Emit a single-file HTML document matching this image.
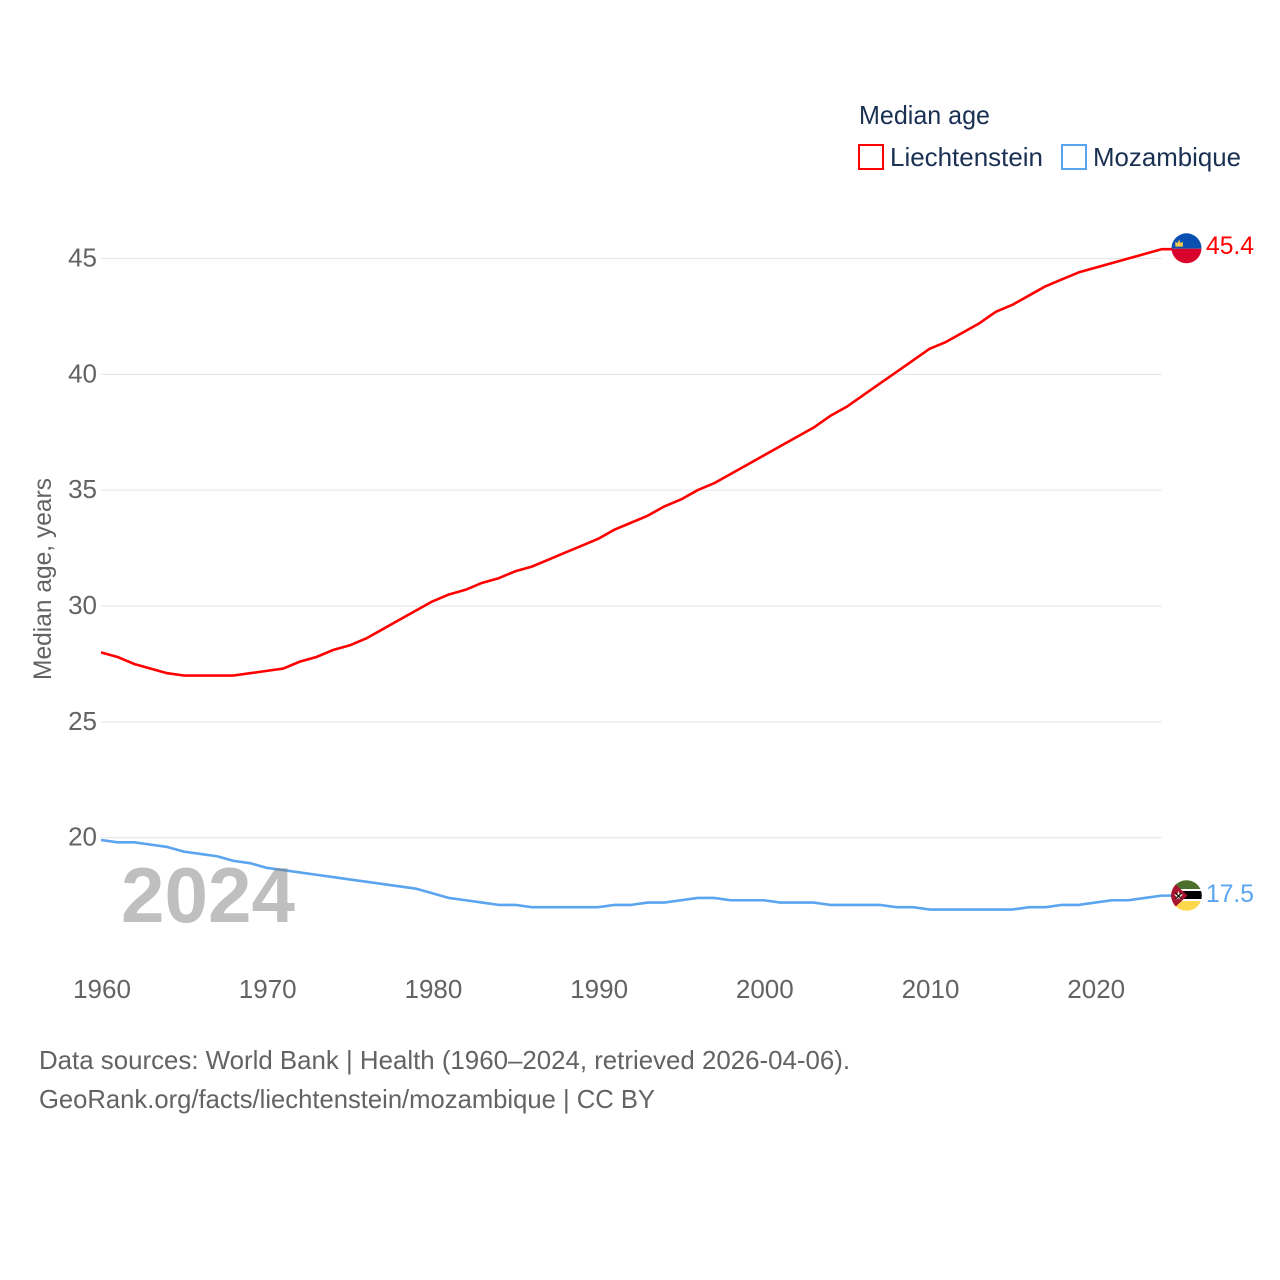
<!DOCTYPE html>
<html lang="en">
<head>
<meta charset="utf-8">
<title>Median age: Liechtenstein and Mozambique</title>
<style>
html,body{margin:0;padding:0;background:#fff;width:1280px;height:1280px;overflow:hidden}
svg{display:block;font-family:"Liberation Sans",sans-serif}
</style>
</head>
<body>
<svg id="chart" width="1280" height="1280" viewBox="0 0 1280 1280" xmlns="http://www.w3.org/2000/svg">
  <defs>
    <clipPath id="clip-li"><circle cx="1186.5" cy="248.3" r="15"/></clipPath>
    <clipPath id="clip-mz"><circle cx="1186.5" cy="895.5" r="15.300"/></clipPath>
  </defs>
  <g id="grid"></g>
  <g id="yticks"></g>
  <g id="xticks"></g>
  <text transform="translate(51,680) rotate(-90)" font-size="25" fill="#636363" textLength="202" lengthAdjust="spacingAndGlyphs">Median age, years</text>
  <g id="series"></g>
  <text x="121" y="922" font-size="78" font-weight="700" fill="#808080" fill-opacity="0.5" textLength="174" lengthAdjust="spacingAndGlyphs">2024</text>

  <g id="flag-li" clip-path="url(#clip-li)">
    <rect x="1171" y="233" width="31" height="15.700" fill="#0a50b0"/>
    <rect x="1171" y="248.700" width="31" height="15" fill="#d9042b"/>
    <path d="M1175.300 246.600v-4.800l2.300 1.300 1.500-3.500 1.500 3.500 2.300-1.300v4.800z" fill="#f0c850"/>
  </g>
  <g id="flag-mz" clip-path="url(#clip-mz)">
    <rect x="1171" y="880" width="31" height="31" fill="#ffffff"/>
    <rect x="1171" y="880" width="31" height="9" fill="#4d6f2c"/>
    <rect x="1171" y="891" width="31" height="8" fill="#000000"/>
    <rect x="1171" y="901" width="31" height="10" fill="#fdd84a"/>
    <path d="M1171 880L1187.500 895.500 1171 911z" fill="#a8132f"/>
    <path d="M1178.500 891l1.300 3.200 3.200.3-2.400 2.100.8 3.200-2.900-1.700-2.900 1.700.8-3.200-2.400-2.100 3.200-.3z" fill="#f5f0e0"/>
    <path d="M1175.500 893l6 6M1181.500 893l-6 6" stroke="#000" stroke-width="1.200" fill="none"/>
  </g>
  <text id="val-li" x="1206" y="254" font-size="25" fill="#ff0000" textLength="48" lengthAdjust="spacingAndGlyphs"></text>
  <text id="val-mz" x="1206" y="902" font-size="25" fill="#5ba4f0" textLength="48" lengthAdjust="spacingAndGlyphs"></text>

  <g>
    <text x="859" y="124" font-size="26" fill="#1a3052" textLength="131" lengthAdjust="spacingAndGlyphs">Median age</text>
    <g>
      <rect x="859" y="145" width="24" height="24" fill="#fff" stroke="#ff0000" stroke-width="2"/>
      <text x="890" y="166" font-size="26" fill="#1a3052" textLength="153" lengthAdjust="spacingAndGlyphs">Liechtenstein</text>
    </g>
    <g>
      <rect x="1062" y="145" width="24" height="24" fill="#fff" stroke="#5ba4f0" stroke-width="2"/>
      <text x="1093" y="166" font-size="26" fill="#1a3052" textLength="148" lengthAdjust="spacingAndGlyphs">Mozambique</text>
    </g>
  </g>
  <text x="39" y="1069" font-size="26" fill="#636363" textLength="811" lengthAdjust="spacingAndGlyphs">Data sources: World Bank | Health (1960–2024, retrieved 2026-04-06).</text>
  <text x="39" y="1108" font-size="26" fill="#636363" textLength="616" lengthAdjust="spacingAndGlyphs">GeoRank.org/facts/liechtenstein/mozambique | CC BY</text>
</svg>
<script>
const years = [1960,1961,1962,1963,1964,1965,1966,1967,1968,1969,1970,1971,1972,1973,1974,1975,1976,1977,1978,1979,1980,1981,1982,1983,1984,1985,1986,1987,1988,1989,1990,1991,1992,1993,1994,1995,1996,1997,1998,1999,2000,2001,2002,2003,2004,2005,2006,2007,2008,2009,2010,2011,2012,2013,2014,2015,2016,2017,2018,2019,2020,2021,2022,2023,2024];
const liechtenstein = [28.0,27.8,27.5,27.3,27.1,27.0,27.0,27.0,27.0,27.1,27.2,27.3,27.6,27.8,28.1,28.3,28.6,29.0,29.4,29.8,30.2,30.5,30.7,31.0,31.2,31.5,31.7,32.0,32.3,32.6,32.9,33.3,33.6,33.9,34.3,34.6,35.0,35.3,35.7,36.1,36.5,36.9,37.3,37.7,38.2,38.6,39.1,39.6,40.1,40.6,41.1,41.4,41.8,42.2,42.7,43.0,43.4,43.8,44.1,44.4,44.6,44.8,45.0,45.2,45.4];
const mozambique = [19.9,19.8,19.8,19.7,19.6,19.4,19.3,19.2,19.0,18.9,18.7,18.6,18.5,18.4,18.3,18.2,18.1,18.0,17.9,17.8,17.6,17.4,17.3,17.2,17.1,17.1,17.0,17.0,17.0,17.0,17.0,17.1,17.1,17.2,17.2,17.3,17.4,17.4,17.3,17.3,17.3,17.2,17.2,17.2,17.1,17.1,17.1,17.1,17.0,17.0,16.9,16.9,16.9,16.9,16.9,16.9,17.0,17.0,17.1,17.1,17.2,17.3,17.3,17.4,17.5];
const yTickValues = [20,25,30,35,40,45];
const xTickValues = [1960,1970,1980,1990,2000,2010,2020];

const NS = 'http://www.w3.org/2000/svg';
function xScale(year){ return 101 + (year - 1960) * (1161.5 - 101) / 64; }
function yScale(v){ return 837.7 - (v - 20) * (837.7 - 258.5) / 25; }

const grid = document.getElementById('grid');
const yticks = document.getElementById('yticks');
const xticks = document.getElementById('xticks');
const series = document.getElementById('series');

yTickValues.forEach(function(v){
  const line = document.createElementNS(NS,'line');
  
  
  line.setAttribute('x1', xScale(1960));
  line.setAttribute('x2', xScale(2024));
  line.setAttribute('y1', yScale(v));
  line.setAttribute('y2', yScale(v));
  line.setAttribute('stroke', '#e8e8e8');
  line.setAttribute('stroke-width', '1.2');
  grid.appendChild(line);

  const t = document.createElementNS(NS,'text');
  
  
  t.setAttribute('x', 97);
  t.setAttribute('y', yScale(v) + 8);
  t.setAttribute('text-anchor', 'end');
  t.setAttribute('font-size', '26');
  t.setAttribute('fill', '#636363');
  t.textContent = v;
  yticks.appendChild(t);
});

xTickValues.forEach(function(v){
  const t = document.createElementNS(NS,'text');
  
  
  t.setAttribute('x', xScale(v) + 1);
  t.setAttribute('y', 998);
  t.setAttribute('text-anchor', 'middle');
  t.setAttribute('font-size', '26');
  t.setAttribute('fill', '#636363');
  t.textContent = v;
  xticks.appendChild(t);
});

function drawSeries(values, color, name){
  const path = document.createElementNS(NS,'path');
  let d = values.map(function(v,i){
    return (i ? 'L' : 'M') + xScale(years[i]).toFixed(2) + ' ' + yScale(v).toFixed(2);
  }).join(' ');
  d += ' H1172';
  
  
  path.setAttribute('d', d);
  path.setAttribute('fill', 'none');
  path.setAttribute('stroke', color);
  path.setAttribute('stroke-width', '2.6');
  path.setAttribute('stroke-linejoin', 'round');
  series.appendChild(path);
}
drawSeries(liechtenstein, '#ff0000', 'liechtenstein');
drawSeries(mozambique, '#5ba4f0', 'mozambique');

const lastLi = liechtenstein[liechtenstein.length - 1];
const lastMz = mozambique[mozambique.length - 1];
function placeEnd(flagId, labelId, value, baseLabelY, baseValue){
  const dy = yScale(value) - yScale(baseValue);
  document.getElementById(flagId).setAttribute('transform', 'translate(0,' + dy + ')');
  document.getElementById(labelId).setAttribute('y', baseLabelY + dy);
  document.getElementById(labelId).textContent = value.toFixed(1);
}
placeEnd('flag-li', 'val-li', lastLi, 254, 45.4);
placeEnd('flag-mz', 'val-mz', lastMz, 902, 17.5);
</script>
</body>
</html>
